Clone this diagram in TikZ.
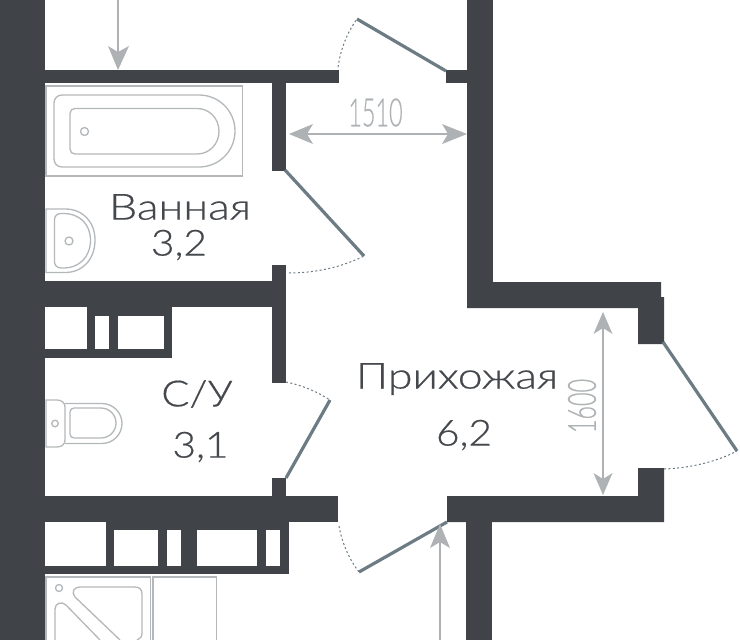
\documentclass[tikz,border=0pt]{standalone}
\usepackage{fontspec}
\setmainfont{Lato Light}
\newfontfamily\roomfont{Lato Light}[FakeBold=0.5]
\newfontfamily\dimfont{Lato Light}[FakeBold=0.4]
\definecolor{wall}{HTML}{404347}
\definecolor{doorc}{HTML}{6D7C84}
\definecolor{dim}{HTML}{AEB2B4}
\definecolor{fix}{HTML}{B4B8BA}
\definecolor{txt}{HTML}{45484C}
\tikzset{
 wallf/.style={fill=wall,draw=none},
 hole/.style={fill=white,draw=none},
 doorleaf/.style={draw=doorc,line width=3.2pt},
 swing/.style={draw=doorc,line width=1pt,dash pattern=on 2pt off 2.4pt},
 fixt/.style={draw=fix,line width=1.3pt},
 dimline/.style={draw=dim,line width=2.4pt},
 dimhead/.style={fill=dim,draw=none},
 roomtext/.style={text=txt,font=\roomfont\fontsize{36}{36}\selectfont,inner sep=0pt,anchor=center,xscale=1.24},
 numtext/.style={roomtext,xscale=0.91},
 dimtext/.style={text=dim,font=\dimfont\fontsize{39}{39}\selectfont,inner sep=0pt,anchor=center},
}
\begin{document}
\begin{tikzpicture}[x=1pt,y=-1pt]
\useasboundingbox (0,0) rectangle (740,640);
\fill[white] (0,0) rectangle (740,640);
% walls
\fill[wallf] (0,0) rectangle (45,640);
\fill[wallf] (45,70) rectangle (339,83);
\fill[wallf] (272,83) rectangle (286,171);
\fill[wallf] (272,265) rectangle (286,383);
\fill[wallf] (45,281) rectangle (286,307);
\fill[wallf] (87,307) rectangle (172,358);
\fill[wallf] (45,349) rectangle (87,358);
\fill[hole] (95,316) rectangle (109,349);
\fill[hole] (118,316) rectangle (164,349);
\fill[wallf] (272,478) rectangle (286,497);
\fill[wallf] (45,496) rectangle (338,522);
\fill[wallf] (45,522) rectangle (289,574);
\fill[hole] (45,522) rectangle (105.5,565.5);
\fill[hole] (114,530) rectangle (158,565.5);
\fill[hole] (167,530) rectangle (181,565.5);
\fill[hole] (197,530) rectangle (257,565.5);
\fill[hole] (266,530) rectangle (280,565.5);
\fill[wallf] (467,0) rectangle (493,308);
\fill[wallf] (446,70) rectangle (467,83);
\fill[wallf] (467,282) -- (661,282) -- (661,297) -- (664,297) -- (664,344) -- (638,344) -- (638,308) -- (467,308) -- cycle;
\fill[wallf] (638,468) -- (664,468) -- (664,522) -- (447,522) -- (447,496) -- (638,496) -- cycle;
\fill[wallf] (465.5,522) rectangle (491.5,640);
% doors
\coordinate (d1a) at (357,19); \coordinate (d1b) at (446,71); \coordinate (d1c) at (338,67);
\coordinate (d2a) at (285,170); \coordinate (d2b) at (364,256); \coordinate (d2c) at (289,273);
\coordinate (d3a) at (286,478); \coordinate (d3b) at (330,400); \coordinate (d3c) at (286,382);
\coordinate (d4a) at (447,522); \coordinate (d4b) at (359,572); \coordinate (d4c) at (339,526);
\coordinate (d5a) at (663,342); \coordinate (d5b) at (737,451); \coordinate (d5c) at (664,469);
\draw[doorleaf] (d1a) -- (d1b);
\draw[doorleaf] (d2a) -- (d2b);
\draw[doorleaf] (d3a) -- (d3b);
\draw[doorleaf] (d4a) -- (d4b);
\draw[doorleaf] (d5a) -- (d5b);
\draw[swing] (d1c) .. controls (341,48) and (347,33) .. (d1a);
\draw[swing] (d2c) .. controls (316,273) and (342,267) .. (d2b);
\draw[swing] (d3c) .. controls (301,385) and (316,391) .. (d3b);
\draw[swing] (d4c) .. controls (342,543) and (349,559) .. (d4b);
\draw[swing] (d5c) .. controls (690,468) and (716,462) .. (d5b);
% dimensions
\coordinate (aS) at (118,0); \coordinate (aT) at (118,70);
\draw[dimline] (aS) -- (118,52);
\fill[dimhead] (aT) -- (108,46) -- (118,52) -- (129,46) -- cycle;
\coordinate (bL) at (289,134); \coordinate (bR) at (467,134);
\draw[dimline] (305,134) -- (450,134);
\fill[dimhead] (bL) -- (313,124) -- (307,134) -- (313,144) -- cycle;
\fill[dimhead] (bR) -- (442,124) -- (448,134) -- (442,144) -- cycle;
\coordinate (cT) at (603,312); \coordinate (cB) at (603,495);
\draw[dimline] (603,328) -- (603,479);
\fill[dimhead] (cT) -- (593.5,334) -- (603,328) -- (612.5,334) -- cycle;
\fill[dimhead] (cB) -- (593.5,473) -- (603,479) -- (612.5,473) -- cycle;
\coordinate (dS) at (440,640); \coordinate (dT) at (440,524);
\draw[dimline] (dS) -- (440,542);
\fill[dimhead] (dT) -- (430,548) -- (440,542) -- (450,548) -- cycle;
\node[dimtext,xscale=0.6] (t1510) at (375.5,112.5) {1510};
\node[dimtext,rotate=90,xscale=0.6] (t1600) at (582,406) {1600};
% bath
\draw[fixt] (46,86) rectangle (242.5,176);
\draw[fixt] (62,95) -- (199,95) .. controls (219,95) and (235,111) .. (235,131) .. controls (235,151) and (219,167) .. (199,167) -- (62,167) .. controls (57.5,167) and (54,163.5) .. (54,159) -- (54,103) .. controls (54,98.5) and (57.5,95) .. (62,95) -- cycle;
\draw[fixt] (75,108.5) -- (197,108.5) .. controls (209.5,108.5) and (219,118.5) .. (219,131.2) .. controls (219,144) and (209.5,154) .. (197,154) -- (75,154) .. controls (72,154) and (70,152) .. (70,149) -- (70,113.5) .. controls (70,110.5) and (72,108.5) .. (75,108.5) -- cycle;
\draw[fixt] (84.5,131.5) circle[radius=4];
% sink
\draw[fixt] (46,209) -- (65,209) .. controls (83,209) and (95,222) .. (95,240) .. controls (95,259) and (83,272.5) .. (65,272.5) -- (46,272.5) -- cycle;
\draw[fixt] (61,213.5) -- (64,213.5) .. controls (79,213.5) and (90.5,224) .. (90.5,240) .. controls (90.5,257) and (79,268) .. (64,268) -- (61,268) .. controls (57,268) and (54.5,265) .. (54.5,262) -- (54.5,220) .. controls (54.5,216) and (57,213.5) .. (61,213.5) -- cycle;
\draw[fixt] (69,241) circle[radius=4];
% toilet
\draw[fixt] (46,400) -- (57,400) .. controls (62,400) and (65,403) .. (65,407) -- (65,440) .. controls (65,444) and (62,447) .. (57,447) -- (46,447) -- cycle;
\draw[fixt] (65,403.5) -- (102,403.5) .. controls (113,403.5) and (122,412.5) .. (122,423.5) .. controls (122,434.5) and (113,443.5) .. (102,443.5) -- (65,443.5);
\draw[fixt] (74,408) -- (101,408) .. controls (109.3,408) and (116,414.7) .. (116,423) .. controls (116,431.3) and (109.3,438) .. (101,438) -- (74,438) .. controls (71.8,438) and (70,436.2) .. (70,434) -- (70,412) .. controls (70,409.8) and (71.8,408) .. (74,408) -- cycle;
\draw[fixt] (55,423.5) circle[radius=3.3];
% shower
\draw[fixt] (46,640) -- (46,577) -- (150.5,577) -- (150.5,640);
\draw[fixt] (153,640) -- (153,577) -- (216.5,577) -- (216.5,640);
\draw[fixt] (59,588) circle[radius=3.5];
\draw[fixt] (120,640) -- (75,597) .. controls (71,592) and (74,587) .. (80,587) -- (135,587) .. controls (140,587) and (142,590) .. (142,594) -- (142,633) .. controls (142,637) and (140,639) .. (137,640);
\draw[fixt] (55,640) -- (55,609) .. controls (55,603) and (62,601) .. (66,605) -- (100,640);
% room labels
\node[roomtext] (n1) at (180,207) {Ванная};
\node[numtext] (n2) at (179,245) {3,2};
\node[roomtext,xscale=0.93] (n3) at (197,394) {С/У};
\node[numtext] (n4) at (200.5,447) {3,1};
\node[roomtext] (n5) at (457,379) {Прихожая};
\node[numtext] (n6) at (464,435) {6,2};
\end{tikzpicture}
\end{document}
